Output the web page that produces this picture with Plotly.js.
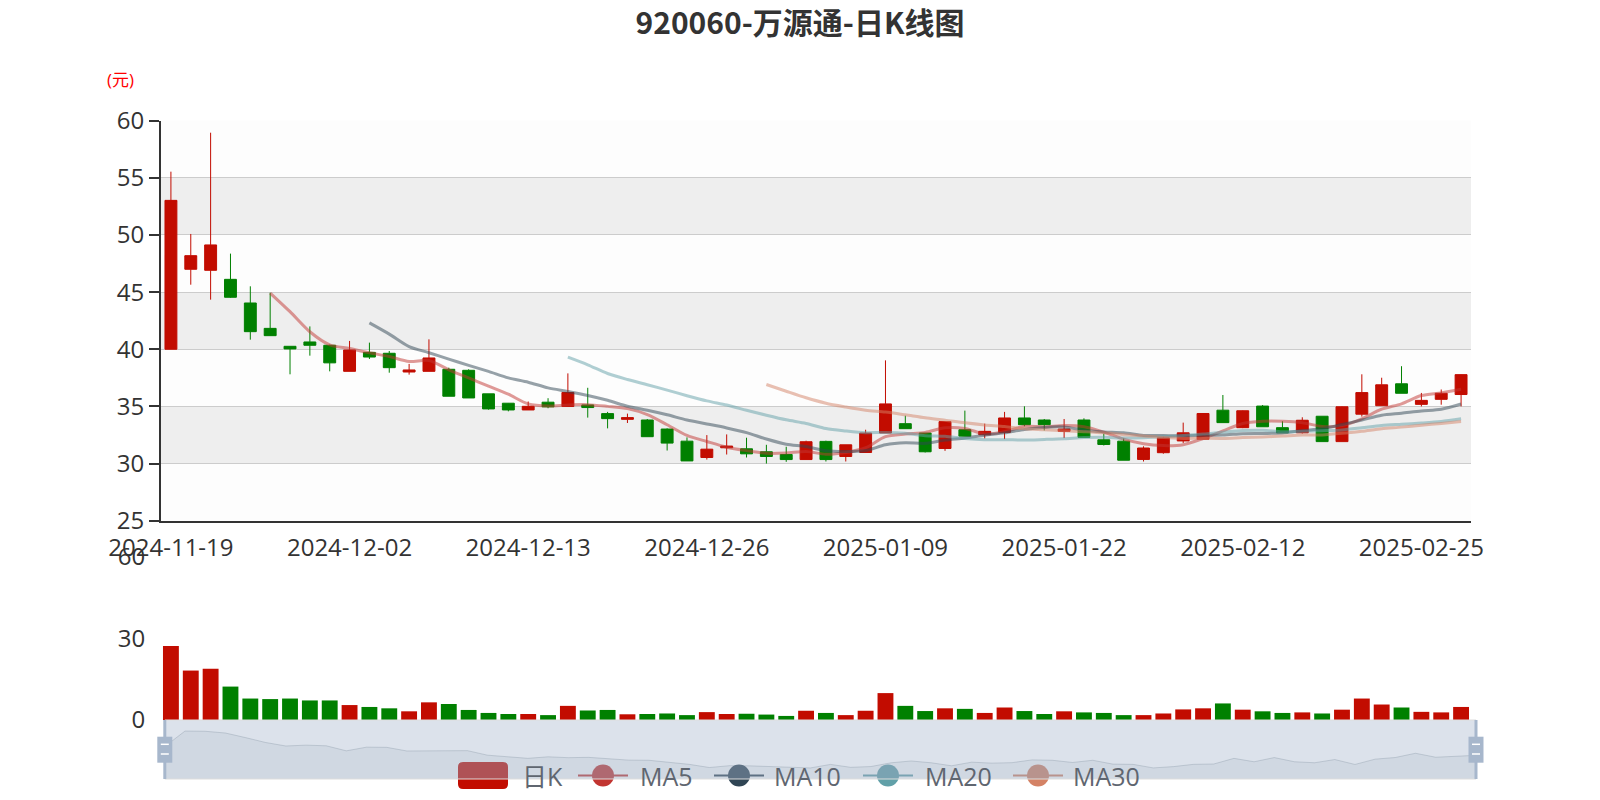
<!DOCTYPE html>
<html>
<head>
<meta charset="utf-8">
<script src="https://cdn.plot.ly/plotly-3.0.1.min.js"></script>
<style>
html,body{margin:0;padding:0;background:#ffffff;}
#chart{width:1600px;height:800px;}
</style>
</head>
<body>
<div id="chart"></div>
<script>
// ---------------- data ----------------
const dates = [
  '2024-11-19','2024-11-20','2024-11-21','2024-11-22','2024-11-25','2024-11-26','2024-11-27','2024-11-28','2024-11-29',
  '2024-12-02','2024-12-03','2024-12-04','2024-12-05','2024-12-06','2024-12-09','2024-12-10','2024-12-11','2024-12-12',
  '2024-12-13','2024-12-16','2024-12-17','2024-12-18','2024-12-19','2024-12-20','2024-12-23','2024-12-24','2024-12-25',
  '2024-12-26','2024-12-27','2024-12-30','2024-12-31','2025-01-02','2025-01-03','2025-01-06','2025-01-07','2025-01-08',
  '2025-01-09','2025-01-10','2025-01-13','2025-01-14','2025-01-15','2025-01-16','2025-01-17','2025-01-20','2025-01-21',
  '2025-01-22','2025-01-23','2025-01-24','2025-01-27','2025-02-05','2025-02-06','2025-02-07','2025-02-10','2025-02-11',
  '2025-02-12','2025-02-13','2025-02-14','2025-02-17','2025-02-18','2025-02-19','2025-02-20','2025-02-21','2025-02-24',
  '2025-02-25','2025-02-26','2025-02-27'
];
const openPrice = [
  40.00,47.00,46.91,46.12,44.05,41.83,40.26,40.64,40.35,
  38.07,39.73,39.65,38.01,38.07,38.25,38.16,36.10,35.28,
  34.69,35.37,34.99,35.13,34.37,33.87,33.81,33.02,31.96,
  30.53,31.38,31.29,31.03,30.79,30.35,31.94,30.62,30.97,
  32.67,33.49,32.67,31.32,32.96,32.52,32.73,33.99,33.81,
  32.82,33.81,32.08,31.96,30.36,30.95,31.98,32.13,34.67,
  33.14,35.03,33.14,32.69,34.14,31.92,34.32,35.06,36.98,
  35.18,35.62,36.04
];
const closePrice = [
  53.03,48.19,49.13,44.55,41.54,41.19,40.03,40.35,38.81,
  39.94,39.32,38.39,38.19,39.24,35.89,35.74,34.78,34.69,
  35.01,34.96,36.22,34.90,33.93,34.02,32.35,31.79,30.23,
  31.26,31.53,30.85,30.62,30.35,31.91,30.35,31.64,32.67,
  35.22,33.05,31.03,33.67,32.40,32.82,33.99,33.40,33.40,
  33.02,32.29,31.67,30.29,31.36,32.25,32.69,34.38,33.58,
  34.62,33.22,32.69,33.79,31.92,34.97,36.21,36.89,36.15,
  35.53,36.15,37.78
];
const lowPrice = [
  40.00,45.65,44.34,44.50,40.84,41.19,37.81,39.44,38.07,
  38.07,39.15,37.95,37.78,38.07,35.89,35.74,34.72,34.57,
  34.69,34.84,34.99,34.02,33.08,33.55,32.35,31.14,30.23,
  30.35,30.79,30.53,30.00,30.15,30.35,30.18,30.18,30.97,
  32.67,33.05,30.97,31.11,32.40,32.20,32.14,33.26,32.90,
  32.23,32.29,31.58,30.29,30.18,30.86,31.80,32.13,33.58,
  33.10,33.22,32.69,32.63,31.92,31.92,34.11,35.06,36.15,
  35.00,35.15,35.00
];
const highPrice = [
  55.54,50.09,58.95,48.37,45.51,44.95,40.26,42.00,40.40,
  40.73,40.58,39.85,38.72,40.87,38.39,38.25,36.10,35.30,
  35.43,35.72,37.89,36.63,34.52,34.37,33.90,33.08,32.29,
  32.49,32.55,32.26,31.64,31.47,32.00,32.00,31.64,32.96,
  39.03,34.19,32.67,33.67,34.63,33.49,34.52,35.01,33.90,
  33.90,33.96,32.61,32.20,31.51,32.34,33.58,34.40,36.00,
  34.65,35.12,33.70,34.05,34.14,35.00,37.81,37.51,38.52,
  36.18,36.48,37.80
];
const volume = [
  27.2,18.2,18.9,12.3,7.9,7.7,7.9,7.2,7.2,
  5.5,4.8,4.3,3.2,6.5,5.9,3.7,2.6,2.2,
  2.2,1.8,5.2,3.5,3.7,2.1,2.2,2.4,1.8,
  2.9,2.2,2.3,2.0,1.5,3.4,2.6,1.8,3.4,
  9.9,5.2,3.3,4.3,4.1,2.6,4.6,3.3,2.2,
  3.2,2.8,2.6,1.8,1.8,2.4,3.9,4.3,6.1,
  3.8,3.2,2.6,2.8,2.4,3.8,7.9,5.7,4.6,
  3.0,2.8,4.8
];
const xTickLabels = ['2024-11-19','2024-12-02','2024-12-13','2024-12-26','2025-01-09','2025-01-22','2025-02-12','2025-02-25'];
const priceTicks = [25,30,35,40,45,50,55,60];
const volumeTicks = [0,30,60];
const maPeriods = [5,10,20,30];
const seriesNames = ['日K','MA5','MA10','MA20','MA30'];

// ---------------- style ----------------
const UP = '#c20c00', DOWN = '#008000';
const MA_COLORS = ['#c23531','#2f4554','#61a0a8','#d48265'];
const FONT = "'Open Sans','Noto Sans CJK SC',sans-serif";
const W = 1600, H = 800;
const px = v => v / W;
const py = v => 1 - v / H;

// moving averages as in the ECharts candlestick example
function movingAverage(n) {
  const out = [];
  for (let i = 0; i < closePrice.length; i++) {
    if (i < n) { out.push(null); continue; }
    let s = 0;
    for (let j = 0; j < n; j++) s += closePrice[i - j];
    out.push(+(s / n).toFixed(3));
  }
  return out;
}

const volColors = closePrice.map((c, i) => c >= openPrice[i] ? UP : DOWN);
// category boundaries (left edge of each labelled day) for the tick marks
const tickBoundaries = xTickLabels.map(d => dates.indexOf(d) - 0.5);

const traces = [];
traces.push({
  type: 'candlestick', name: seriesNames[0], x: dates,
  open: openPrice, high: highPrice, low: lowPrice, close: closePrice,
  xaxis: 'x', yaxis: 'y',
  increasing: {line: {color: UP, width: 1}, fillcolor: UP},
  decreasing: {line: {color: DOWN, width: 1}, fillcolor: DOWN},
  whiskerwidth: 0, showlegend: false, hoverinfo: 'skip'
});
maPeriods.forEach((n, k) => {
  traces.push({
    type: 'scatter', mode: 'lines', name: seriesNames[k + 1], x: dates, y: movingAverage(n),
    xaxis: 'x', yaxis: 'y', opacity: 0.5,
    line: {color: MA_COLORS[k], width: 3, shape: 'spline', smoothing: 0.8},
    showlegend: false, hoverinfo: 'skip'
  });
});
traces.push({
  type: 'bar', x: dates, y: volume, xaxis: 'x2', yaxis: 'y2',
  marker: {color: volColors, line: {width: 0}}, showlegend: false, hoverinfo: 'skip'
});
// dataZoom shadow (open price series)
traces.push({
  type: 'scatter', mode: 'lines', x: dates, y: openPrice, xaxis: 'x3', yaxis: 'y3',
  fill: 'tozeroy', fillcolor: 'rgba(47,69,84,0.09)',
  line: {color: 'rgba(47,69,84,0.3)', width: 0.8}, showlegend: false, hoverinfo: 'skip'
});

const oMin = Math.min(...openPrice), oMax = Math.max(...openPrice);
const oPad = (oMax - oMin) * 0.3;

// ---------------- shapes ----------------
const shapes = [];
for (let k = 0; k < priceTicks.length - 1; k++) {
  shapes.push({
    type: 'rect', xref: 'x domain', yref: 'y', x0: 0, x1: 1,
    y0: priceTicks[k], y1: priceTicks[k + 1], layer: 'below',
    fillcolor: k % 2 === 0 ? 'rgba(250,250,250,0.3)' : 'rgba(200,200,200,0.3)',
    line: {width: 0}
  });
}
// legend icons
const legY = 775.5;
const r = 5, lx0 = 458, lx1 = 508, ly0 = 762, ly1 = 789;
shapes.push({
  type: 'path', xref: 'paper', yref: 'paper', layer: 'below', fillcolor: UP, line: {width: 0},
  path: `M${px(lx0 + r)},${py(ly0)} L${px(lx1 - r)},${py(ly0)} Q${px(lx1)},${py(ly0)} ${px(lx1)},${py(ly0 + r)} ` +
        `L${px(lx1)},${py(ly1 - r)} Q${px(lx1)},${py(ly1)} ${px(lx1 - r)},${py(ly1)} L${px(lx0 + r)},${py(ly1)} ` +
        `Q${px(lx0)},${py(ly1)} ${px(lx0)},${py(ly1 - r)} L${px(lx0)},${py(ly0 + r)} Q${px(lx0)},${py(ly0)} ${px(lx0 + r)},${py(ly0)} Z`
});
const legCenters = [603, 739, 888, 1038];
legCenters.forEach((c, k) => {
  shapes.push({type: 'line', xref: 'paper', yref: 'paper', layer: 'below',
    x0: px(c - 25), x1: px(c + 25), y0: py(legY), y1: py(legY), line: {color: MA_COLORS[k], width: 2}});
  shapes.push({type: 'circle', xref: 'paper', yref: 'paper', layer: 'below',
    x0: px(c - 11), x1: px(c + 11), y0: py(legY - 11), y1: py(legY + 11), fillcolor: MA_COLORS[k], line: {width: 0}});
});
// slider (dataZoom) overlay
const sL = 164.8, sR = 1476, sT = 720, sB = 779;
shapes.push({type: 'rect', xref: 'paper', yref: 'paper', layer: 'above',
  x0: px(sL), x1: px(sR), y0: py(sB), y1: py(sT), fillcolor: 'rgba(167,183,204,0.4)', line: {color: '#dddddd', width: 1}});
[sL, sR].forEach(hx => {
  shapes.push({type: 'line', xref: 'paper', yref: 'paper', layer: 'above',
    x0: px(hx), x1: px(hx), y0: py(sT), y1: py(sB), line: {color: '#a7b7cc', width: 3}});
  shapes.push({type: 'rect', xref: 'paper', yref: 'paper', layer: 'above',
    x0: px(hx - 7.5), x1: px(hx + 7.5), y0: py(762.7), y1: py(736.7), fillcolor: '#a7b7cc', line: {width: 0}});
  [744.3, 754].forEach(wy => {
    shapes.push({type: 'line', xref: 'paper', yref: 'paper', layer: 'above',
      x0: px(hx - 4), x1: px(hx + 4), y0: py(wy), y1: py(wy), line: {color: '#ffffff', width: 1.5}});
  });
});

// ---------------- annotations ----------------
const annotations = [
  {text: '(元)', xref: 'paper', yref: 'paper', x: px(120), y: py(80), xanchor: 'center', yanchor: 'middle',
   showarrow: false, font: {family: FONT, size: 17, color: '#ff0000'}}
];
const legTextX = [522, 640, 774, 925, 1073];
seriesNames.forEach((t, k) => {
  annotations.push({text: t, xref: 'paper', yref: 'paper', x: px(legTextX[k] - 2), y: py(legY), xanchor: 'left', yanchor: 'middle',
    showarrow: false, font: {family: FONT, size: 25, color: '#5f6670'}});
});

const tickFont = {family: FONT, size: 24, color: '#333333'};
const layout = {
  width: W, height: H, autosize: false,
  margin: {l: 0, r: 0, t: 0, b: 0},
  paper_bgcolor: '#ffffff', plot_bgcolor: 'rgba(0,0,0,0)',
  showlegend: false, hovermode: false, dragmode: false,
  boxgap: 0.4, boxgroupgap: 0, bargap: 0.2,
  title: {text: '920060-万源通-日K线图', x: 0.5, xanchor: 'center', xref: 'paper', y: py(23), yanchor: 'middle', yref: 'container',
    font: {family: "'Noto Sans CJK SC','Open Sans',sans-serif", size: 30, color: '#333333', weight: 'bold'}},
  xaxis: {
    domain: [px(161), px(1471)], anchor: 'y', type: 'category', range: [-0.5, dates.length - 0.5],
    categoryorder: 'array', categoryarray: dates,
    tickmode: 'array', tickvals: xTickLabels, ticktext: xTickLabels, tickangle: 0,
    ticks: 'outside', ticklen: 4, tickcolor: 'rgba(0,0,0,0)',
    showline: true, linecolor: '#333333', linewidth: 2, showgrid: false, zeroline: false,
    tickfont: tickFont, rangeslider: {visible: false}, fixedrange: true
  },
  xaxis4: {
    overlaying: 'x', anchor: 'y', side: 'bottom', type: 'linear', range: [-0.5, dates.length - 0.5],
    tickmode: 'array', tickvals: tickBoundaries, ticks: 'outside', ticklen: 9, tickwidth: 2, tickcolor: '#333333',
    showticklabels: false, showline: false, showgrid: false, zeroline: false, fixedrange: true
  },
  yaxis: {
    domain: [py(520.7), py(120.7)], anchor: 'x', range: [priceTicks[0], priceTicks[priceTicks.length - 1]],
    tickmode: 'array', tickvals: priceTicks, ticks: 'outside', ticklen: 10, tickwidth: 2, tickcolor: '#333333',
    showline: true, linecolor: '#333333', linewidth: 2, showgrid: true, gridcolor: '#cccccc', gridwidth: 1,
    zeroline: false, tickfont: tickFont, fixedrange: true
  },
  xaxis2: {
    domain: [px(161), px(1471)], anchor: 'y2', type: 'category', range: [-0.5, dates.length - 0.5],
    categoryorder: 'array', categoryarray: dates,
    showticklabels: false, ticks: '', showline: false, showgrid: false, zeroline: false, fixedrange: true
  },
  yaxis2: {
    domain: [py(720), py(557)], anchor: 'x2', range: [volumeTicks[0], volumeTicks[volumeTicks.length - 1]],
    tickmode: 'array', tickvals: volumeTicks, ticks: 'outside', ticklen: 10, tickcolor: 'rgba(0,0,0,0)',
    showline: false, showgrid: false, zeroline: false, tickfont: tickFont, fixedrange: true
  },
  xaxis3: {
    domain: [px(sL), px(sR)], anchor: 'y3', type: 'category', range: [0, dates.length - 1],
    categoryorder: 'array', categoryarray: dates, visible: false, fixedrange: true
  },
  yaxis3: {
    domain: [py(sB), py(sT)], anchor: 'x3', range: [oMin - oPad, oMax + oPad], visible: false, fixedrange: true
  },
  shapes: shapes,
  annotations: annotations
};

Plotly.newPlot('chart', traces, layout, {displayModeBar: false, staticPlot: true});
</script>
</body>
</html>
